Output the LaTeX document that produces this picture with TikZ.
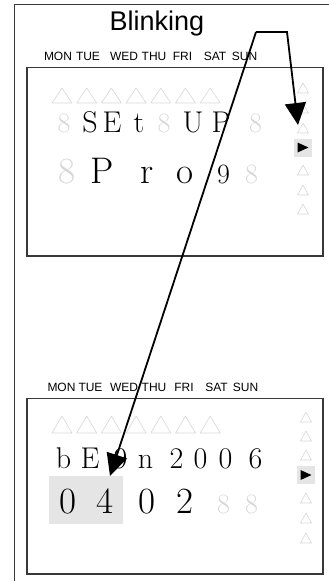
\documentclass[tikz,border=0pt]{standalone}
\usepackage{fontspec}
\newfontfamily\sansfam{Liberation Sans}
\usetikzlibrary{arrows.meta}
\definecolor{segoff}{gray}{0.84}
\definecolor{boxline}{gray}{0.22}
\definecolor{hilite}{gray}{0.9}
\newcommand{\segtri}[4]{\draw[segoff, line width=0.6pt, line join=round] (#1,#2) -- ++(#3,0) -- ++(-#3/2,-#4) -- cycle;}
\newcommand{\markon}[2]{\fill[hilite] (#1-9,#2-9) rectangle ++(18,18);\fill[black] (#1-5,#2-5) -- (#1-5,#2+5) -- (#1+6,#2) -- cycle;}

\begin{document}
\begin{tikzpicture}[x=1pt,y=-1pt,
  lcd/.style={inner sep=0pt, anchor=base, font=\fontsize{30}{30}\selectfont},
  lcdbig/.style={lcd, font=\fontsize{37}{37}\selectfont},
  lcdsmall/.style={lcd, font=\fontsize{28}{28}\selectfont},
  off/.style={text=segoff},
  day/.style={inner sep=0pt, anchor=base, font=\sansfam\fontsize{12}{12}\selectfont},
  panel/.style={draw=boxline, line width=1.8pt},
  blinkarrow/.style={line width=1.8pt, -{Triangle[length=22pt,width=21pt]}}]
\useasboundingbox (0,0) rectangle (329,581);
\draw[boxline, line width=0.9pt] (329,4) -- (14,4) -- (14,581);
\node[inner sep=0pt, anchor=base, font=\sansfam\fontsize{27}{27}\selectfont] (blinking) at (157,30) {Blinking};

% upper display
\node[day] (mon1) at (58,60) {MON};
\node[day] (tue1) at (88,60) {TUE};
\node[day] (wed1) at (124,60) {WED};
\node[day] (thu1) at (154,60) {THU};
\node[day] (fri1) at (182.5,60) {FRI};
\node[day] (sat1) at (215,60) {SAT};
\node[day] (sun1) at (244.5,60) {SUN};
\draw[panel] (27,67.5) rectangle (323,256);
\segtri{52}{103}{20}{15}
\segtri{76.7}{103}{20}{15}
\segtri{101.4}{103}{20}{15}
\segtri{126.1}{103}{20}{15}
\segtri{150.8}{103}{20}{15}
\segtri{175.5}{103}{20}{15}
\segtri{200.2}{103}{20}{15}
\node[lcdsmall, off] (a1) at (64,132) {8};
\node[lcd] (a2) at (90,132) {S};
\node[lcd] (a3) at (112,132) {E};
\node[lcd] (a4) at (139,132) {t};
\node[lcdsmall, off] (a5) at (164,132) {8};
\node[lcd] (a6) at (193,132) {U};
\node[lcd] (a7) at (221,132) {P};
\node[lcdsmall, off] (a8) at (255.5,132) {8};
\node[lcdbig, off] (b1) at (66.5,183) {8};
\node[lcdbig] (b2) at (102.5,183) {P};
\node[lcdbig] (b3) at (147.5,183) {r};
\node[lcdbig] (b4) at (185,183) {o};
\node[lcdsmall] (b5) at (223.5,183) {9};
\node[lcdsmall, off] (b6) at (251.5,183) {8};
\segtri{297.5}{93}{11}{10}
\segtri{297.5}{113}{11}{10}
\segtri{297.5}{133}{11}{10}
\markon{302.5}{147.5}
\segtri{297.5}{175}{11}{10}
\segtri{297.5}{195}{11}{10}
\segtri{297.5}{214}{11}{10}

% lower display
\node[day] (mon2) at (61.5,391) {MON};
\node[day] (tue2) at (90.5,391) {TUE};
\node[day] (wed2) at (124,391) {WED};
\node[day] (thu2) at (154,391) {THU};
\node[day] (fri2) at (184,391) {FRI};
\node[day] (sat2) at (216.5,391) {SAT};
\node[day] (sun2) at (245.5,391) {SUN};
\draw[panel] (27,398.5) rectangle (323,574);
\segtri{52}{433}{20}{17}
\segtri{76.7}{433}{20}{17}
\segtri{101.4}{433}{20}{17}
\segtri{126.1}{433}{20}{17}
\segtri{150.8}{433}{20}{17}
\segtri{175.5}{433}{20}{17}
\segtri{200.2}{433}{20}{17}
\node[lcd] (c1) at (63.5,468) {b};
\node[lcd] (c2) at (90,468) {E};
\node[lcd] (c3) at (120.5,468) {9};
\node[lcd] (c4) at (145.5,468) {n};
\node[lcd] (c5) at (176.5,468) {2};
\node[lcd] (c6) at (200.5,468) {0};
\node[lcd] (c7) at (225.5,468) {0};
\node[lcd] (c8) at (255.5,468) {6};
\fill[hilite] (49,476) rectangle (123,524);
\node[lcdbig] (d1) at (67.5,513) {0};
\node[lcdbig] (d2) at (105,513) {4};
\node[lcdbig] (d3) at (146.5,513) {0};
\node[lcdbig] (d4) at (185,513) {2};
\node[lcdsmall, off] (d5) at (223.5,513) {8};
\node[lcdsmall, off] (d6) at (251.5,513) {8};
\segtri{300.5}{422}{11}{10}
\segtri{300.5}{441}{11}{10}
\segtri{300.5}{460}{11}{10}
\markon{305.5}{475}
\segtri{300.5}{503}{11}{10}
\segtri{300.5}{523}{11}{10}
\segtri{300.5}{543}{11}{10}

% blinking pointers
\coordinate (split) at (256,32);
\coordinate (turn) at (287,32);
\coordinate (uptip) at (298,125);
\coordinate (lowtip) at (110,476);
\draw[blinkarrow] (split) -- (turn) -- (uptip);
\draw[blinkarrow] (split) -- (lowtip);
\end{tikzpicture}
\end{document}
